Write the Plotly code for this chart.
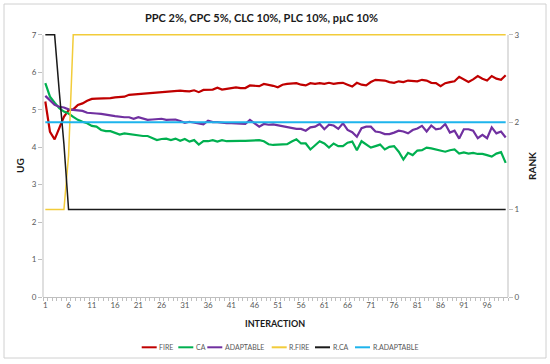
import plotly.graph_objects as go

interactions = list(range(1, 101))

fire = [5.22, 4.41, 4.21, 4.50, 4.81, 4.99, 5.01, 5.13, 5.17, 5.24,
        5.29, 5.30, 5.30, 5.31, 5.31, 5.33, 5.35, 5.35, 5.40, 5.41,
        5.41, 5.43, 5.44, 5.46, 5.47, 5.47, 5.49, 5.50, 5.51, 5.51,
        5.50, 5.49, 5.52, 5.47, 5.53, 5.53, 5.54, 5.59, 5.54, 5.56,
        5.58, 5.60, 5.58, 5.58, 5.65, 5.64, 5.63, 5.69, 5.67, 5.64,
        5.60, 5.67, 5.69, 5.69, 5.71, 5.67, 5.65, 5.71, 5.69, 5.71,
        5.69, 5.72, 5.69, 5.71, 5.72, 5.67, 5.62, 5.72, 5.67, 5.65,
        5.74, 5.80, 5.80, 5.78, 5.74, 5.72, 5.76, 5.74, 5.78, 5.76,
        5.76, 5.80, 5.78, 5.72, 5.71, 5.63, 5.71, 5.74, 5.76, 5.88,
        5.81, 5.74, 5.81, 5.90, 5.83, 5.78, 5.90, 5.83, 5.80, 5.92]

ca = [5.71, 5.35, 5.19, 5.04, 4.95, 4.90, 4.81, 4.73, 4.68, 4.64,
      4.57, 4.55, 4.46, 4.43, 4.43, 4.39, 4.34, 4.37, 4.35, 4.32,
      4.30, 4.30, 4.30, 4.24, 4.19, 4.22, 4.23, 4.19, 4.23, 4.17,
      4.22, 4.15, 4.19, 4.07, 4.16, 4.16, 4.19, 4.15, 4.19, 4.16,
      4.17, 4.17, 4.17, 4.17, 4.17, 4.17, 4.19, 4.16, 4.08, 4.06,
      4.06, 4.06, 4.08, 4.15, 4.21, 4.10, 4.10, 3.94, 4.06, 4.16,
      4.10, 3.99, 4.10, 4.03, 4.03, 4.12, 4.15, 3.92, 4.16, 4.08,
      3.99, 4.03, 4.07, 3.94, 4.01, 4.03, 3.88, 3.67, 3.85, 3.79,
      3.91, 3.92, 3.99, 3.97, 3.94, 3.91, 3.88, 3.92, 3.94, 3.83,
      3.86, 3.83, 3.85, 3.82, 3.82, 3.79, 3.75, 3.83, 3.87, 3.58]

adaptable = [5.37, 5.24, 5.13, 5.08, 5.06, 5.01, 4.99, 4.99, 4.97, 4.92,
             4.90, 4.90, 4.89, 4.88, 4.85, 4.83, 4.81, 4.80, 4.80, 4.76,
             4.80, 4.76, 4.73, 4.74, 4.74, 4.76, 4.73, 4.74, 4.74, 4.70,
             4.65, 4.68, 4.65, 4.64, 4.61, 4.71, 4.67, 4.67, 4.65, 4.64,
             4.64, 4.64, 4.64, 4.62, 4.73, 4.65, 4.55, 4.62, 4.60, 4.61,
             4.59, 4.57, 4.53, 4.51, 4.49, 4.49, 4.44, 4.53, 4.55, 4.62,
             4.48, 4.60, 4.58, 4.49, 4.64, 4.46, 4.40, 4.28, 4.51, 4.55,
             4.55, 4.42, 4.40, 4.35, 4.35, 4.39, 4.44, 4.42, 4.37, 4.46,
             4.50, 4.57, 4.42, 4.58, 4.48, 4.50, 4.62, 4.39, 4.44, 4.23,
             4.48, 4.48, 4.44, 4.24, 4.33, 4.24, 4.53, 4.37, 4.42, 4.26]

r_fire = [1, 1, 1, 1, 1, 1.62] + [3] * 94
r_ca = [3, 3, 3, 2.35, 1.75] + [1] * 95
r_adaptable = [2] * 100

series_names = ["FIRE", "CA", "ADAPTABLE", "R.FIRE", "R.CA", "R.ADAPTABLE"]
x_tick_labels = [str(v) for v in range(1, 100, 5)]
left_ticks = [0, 1, 2, 3, 4, 5, 6, 7]
right_ticks = [0, 1, 2, 3]

title_text = "PPC 2%, CPC 5%, CLC 10%, PLC 10%, p\u00b5C 10%"

colors = ["#C00000", "#00B050", "#7030A0", "#F2CC3A", "#1A1A1A", "#1EB4EC"]
widths = [2.2, 2.2, 2.2, 1.5, 1.5, 1.8]

W, H = 550, 364
L, R, T, B = 43, 42, 33, 67
PW, PH = W - L - R, H - T - B
YTOP = 7.05  # small headroom so lines at the top value are not clipped


def px(xp):
    return (xp - L) / PW


def py(yp):
    return (H - B - yp) / PH


FONT = "Lato, 'Open Sans', sans-serif"

fig = go.Figure()
left_series = [fire, ca, adaptable]
right_series = [r_fire, r_ca, r_adaptable]
for i, s in enumerate(left_series):
    fig.add_trace(go.Scatter(x=interactions, y=s, mode="lines", name=series_names[i],
                             line=dict(color=colors[i], width=widths[i]), yaxis="y"))
for j, s in enumerate(right_series):
    i = j + 3
    fig.add_trace(go.Scatter(x=interactions, y=s, mode="lines", name=series_names[i],
                             line=dict(color=colors[i], width=widths[i]), yaxis="y2"))

axis_color = "#BFBFBF"
tick_font = dict(family=FONT, size=8, color="#595959")

fig.update_layout(
    width=W, height=H,
    margin=dict(l=L, r=R, t=T, b=B),
    paper_bgcolor="white", plot_bgcolor="white",
    showlegend=False,
    xaxis=dict(range=[0.5, 100.5], tickvals=list(range(1, 100, 5)), ticktext=x_tick_labels,
               ticks="", showgrid=False, zeroline=False, showline=True,
               linecolor=axis_color, linewidth=1, tickfont=tick_font,
               minor=dict(tickvals=[v + 0.5 for v in range(0, 101)], ticks="outside",
                          ticklen=3, tickcolor=axis_color, showgrid=False)),
    yaxis=dict(range=[0, YTOP], tickvals=left_ticks, ticks="outside", ticklen=4,
               tickcolor=axis_color, showgrid=False, zeroline=False, showline=False,
               tickfont=tick_font),
    yaxis2=dict(range=[0, YTOP * 3 / 7], tickvals=right_ticks, ticks="outside", ticklen=4,
                tickcolor=axis_color, showgrid=False, zeroline=False, showline=False,
                tickfont=tick_font, overlaying="y", side="right"),
)

annotations = [
    dict(text="<b>" + title_text + "</b>", x=px(261), y=py(18), xref="paper", yref="paper",
         showarrow=False, xanchor="center", yanchor="middle",
         font=dict(family=FONT, size=11, color="#1A1A1A")),
    dict(text="<b>UG</b>", x=px(20), y=py(166), xref="paper", yref="paper", textangle=-90,
         showarrow=False, xanchor="center", yanchor="middle",
         font=dict(family=FONT, size=10, color="#1A1A1A")),
    dict(text="<b>RANK</b>", x=px(532), y=py(166), xref="paper", yref="paper", textangle=-90,
         showarrow=False, xanchor="center", yanchor="middle",
         font=dict(family=FONT, size=10, color="#1A1A1A")),
    dict(text="<b>INTERACTION</b>", x=px(275), y=py(323), xref="paper", yref="paper",
         showarrow=False, xanchor="center", yanchor="middle",
         font=dict(family=FONT, size=9, color="#1A1A1A")),
]

shapes = [
    dict(type="rect", xref="paper", yref="paper", x0=px(4), x1=px(546), y0=py(358), y1=py(4),
         line=dict(color="#D0D0D0", width=1), fillcolor="rgba(0,0,0,0)", layer="below"),
    dict(type="line", xref="paper", yref="paper", x0=0, x1=0, y0=0, y1=py(35),
         line=dict(color=axis_color, width=1)),
    dict(type="line", xref="paper", yref="paper", x0=1, x1=1, y0=0, y1=py(35),
         line=dict(color=axis_color, width=1)),
]

legend_line_x = [141.7, 178.3, 207.3, 271.7, 315, 355]
legend_y = 347.3
for k, name in enumerate(series_names):
    x0 = legend_line_x[k]
    shapes.append(dict(type="line", xref="paper", yref="paper", x0=px(x0), x1=px(x0 + 15),
                       y0=py(legend_y), y1=py(legend_y),
                       line=dict(color=colors[k], width=2)))
    annotations.append(dict(text=name, x=px(x0 + 15.5), y=py(legend_y), xref="paper", yref="paper",
                            showarrow=False, xanchor="left", yanchor="middle",
                            font=dict(family=FONT, size=7, color="#595959")))

fig.update_layout(annotations=annotations, shapes=shapes)
fig.write_html("out.html", config={"displayModeBar": False},
               post_script="document.body.style.margin='0';")
